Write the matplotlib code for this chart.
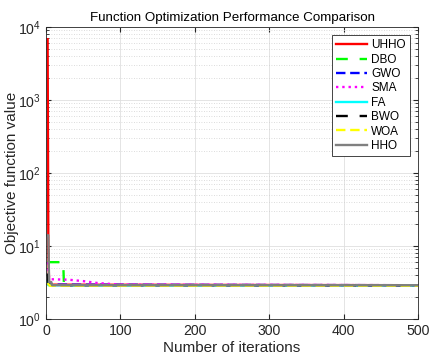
import matplotlib
matplotlib.use("Agg")
import matplotlib.pyplot as plt
from matplotlib.ticker import LogLocator, NullFormatter, MultipleLocator

plt.rcParams['font.family'] = ['Liberation Sans', 'DejaVu Sans']
plt.rcParams['mathtext.default'] = 'regular'

labels = ["UHHO", "DBO", "GWO", "SMA", "FA", "BWO", "WOA", "HHO"]
colors = ["#ff0000", "#00ff00", "#0000ff", "#ff00ff", "#00ffff", "#000000", "#ffff00", "#808080"]
styles = ["-", (0, (5, 5)), (0, (4, 2)), ":", "-", (0, (5, 5)), (0, (4, 2)), "-"]

uhho_x = [2, 3, 4, 500]
uhho_y = [6800, 9.0, 2.95, 2.9]
dbo_x = [2, 23, 24, 500]
dbo_y = [6.0, 6.0, 2.9, 2.9]
gwo_x = [2, 4, 500]
gwo_y = [3.5, 2.95, 2.9]
sma_x = [2, 4, 6, 30, 50, 70, 100, 500]
sma_y = [6.0, 3.7, 3.5, 3.45, 3.3, 3.1, 2.95, 2.9]
fa_x = [2, 3, 500]
fa_y = [3.3, 2.9, 2.9]
bwo_x = [2, 3, 4, 500]
bwo_y = [4.2, 3.2, 2.9, 2.9]
woa_x = [2, 5, 500]
woa_y = [3.1, 2.85, 2.85]
hho_x = [2, 3, 4, 7, 8, 500]
hho_y = [14, 14, 3.2, 3.2, 2.9, 2.9]

xs = [uhho_x, dbo_x, gwo_x, sma_x, fa_x, bwo_x, woa_x, hho_x]
ys = [uhho_y, dbo_y, gwo_y, sma_y, fa_y, bwo_y, woa_y, hho_y]

fig = plt.figure(figsize=(4.35, 3.6), dpi=100)
ax = fig.add_axes([0.106, 0.114, 0.855, 0.811])

for x, y, c, s, l in zip(xs, ys, colors, styles, labels):
    ax.plot(x, y, color=c, linestyle=s, linewidth=1.7, label=l)

ax.set_yscale('log')
ax.set_xlim(0, 500)
ax.set_ylim(1, 1e4)
ax.xaxis.set_major_locator(MultipleLocator(100))
ax.yaxis.set_major_locator(LogLocator(base=10, numticks=10))
ax.yaxis.set_minor_locator(LogLocator(base=10, subs=range(2, 10), numticks=10))
ax.yaxis.set_minor_formatter(NullFormatter())

ax.grid(True, which='major', color='#dfdfdf', linewidth=0.6, linestyle='-')
ax.grid(True, which='minor', axis='y', color='#d0d0d0', linewidth=0.6, linestyle=(0, (1, 2)))
ax.set_axisbelow(True)

ax.tick_params(which='both', direction='in', top=True, right=True, labelsize=10.2,
               color='#262626', labelcolor='#262626')
ax.tick_params(which='major', length=3.5)
ax.tick_params(which='minor', length=2)
for sp in ax.spines.values():
    sp.set_color('#262626')
    sp.set_linewidth(0.6)

ax.set_title("Function Optimization Performance Comparison", fontsize=9.6, color='#000000', pad=4)
ax.set_xlabel("Number of iterations", fontsize=11, color='#262626', labelpad=2)
ax.set_ylabel("Objective function value", fontsize=11, color='#262626')
ax.yaxis.set_label_coords(-0.073, 0.5)

leg = ax.legend(loc='upper right', fontsize=8.5, handlelength=2.6, handletextpad=0.35,
                labelspacing=0.2, borderaxespad=0.7, fancybox=False, framealpha=1,
                edgecolor='#262626', borderpad=0.35)
leg.get_frame().set_linewidth(0.6)

fig.savefig("out.png", dpi=100)
